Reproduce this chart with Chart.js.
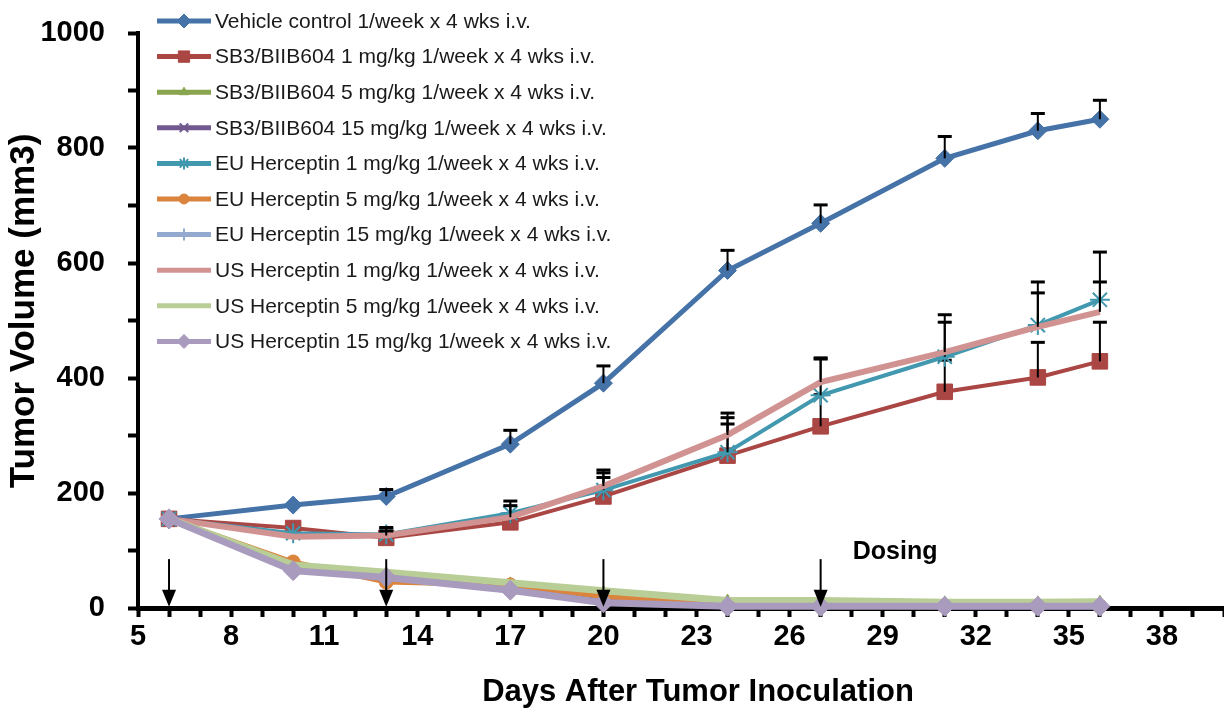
<!DOCTYPE html>
<html>
<head>
<meta charset="utf-8">
<script src="https://cdn.jsdelivr.net/npm/chart.js@4/dist/chart.umd.min.js"></script>
<style>
  html, body { margin: 0; padding: 0; background: #fff; }
  #wrap { width: 1224px; height: 710px; position: relative; }
</style>
</head>
<body>
<div id="wrap"><canvas id="c" width="1224" height="710"></canvas></div>
<script>
// ---------- data ----------
const days = [6, 10, 13, 17, 20, 24, 27, 31, 34, 36];

const seriesNames = [
  'Vehicle control 1/week x 4 wks i.v.',
  'SB3/BIIB604 1 mg/kg 1/week x 4 wks i.v.',
  'SB3/BIIB604 5 mg/kg 1/week x 4 wks i.v.',
  'SB3/BIIB604 15 mg/kg 1/week x 4 wks i.v.',
  'EU Herceptin 1 mg/kg 1/week x 4 wks i.v.',
  'EU Herceptin 5 mg/kg 1/week x 4 wks i.v.',
  'EU Herceptin 15 mg/kg 1/week x 4 wks i.v.',
  'US Herceptin 1 mg/kg 1/week x 4 wks i.v.',
  'US Herceptin 5 mg/kg 1/week x 4 wks i.v.',
  'US Herceptin 15 mg/kg 1/week x 4 wks i.v.'
];

const vehicle   = [155, 179, 194, 285, 391, 587, 669, 782, 830, 850];
const sb3_1     = [155, 139, 122, 149, 194, 265, 316, 376, 401, 429];
const sb3_5     = [155, 73, 60, 42, 27, 12, 12, 9, 9, 10];
const sb3_15    = [155, 67, 55, 33, 12, 3, 3, 3, 3, 3];
const eu_1      = [155, 130, 128, 165, 205, 271, 370, 437, 492, 536];
const eu_5      = [155, 80, 45, 40, 20, 5, 4, 3, 3, 3];
const eu_15     = [155, 66, 52, 32, 10, 3, 3, 2, 2, 2];
const us_1      = [155, 124, 126, 158, 212, 301, 393, 445, 489, 515];
const us_5      = [155, 75, 62, 44, 30, 13, 13, 10, 10, 11];
const us_15     = [155, 65, 53, 31, 9, 3, 3, 3, 3, 3];

// upper error bars (SEM)
const vehicleErr = [0, 0, 12, 24, 30, 35, 32, 38, 30, 33];
const sb3_1Err   = [0, 0, 10, 15, 46, 55, 55, 55, 61, 68];
const eu_1Err    = [0, 0, 12, 21, 30, 68, 65, 73, 75, 83];
const us_1Err    = [0, 0, 8, 20, 15, 30, 40, 52, 59, 52];
const zeroErr    = [0, 0, 0, 0, 0, 0, 0, 0, 0, 0];

const xTickStart = 5, xTickStep = 3, xMin = 5, xMax = 40;
const yTickLabels = [0, 200, 400, 600, 800, 1000];
const dosingDays = [6, 13, 20, 27];
const dosingLabel = 'Dosing';
const xTitle = 'Days After Tumor Inoculation';
const yTitle = 'Tumor Volume (mm3)';

// ---------- styles ----------
const FONT = "'Liberation Sans', Arial, sans-serif";
const styles = [
  { color: '#4572A7', point: 'rectRot',  r: 9,   bw: 5 },
  { color: '#AA4643', point: 'rect',     r: 11,  bw: 4 },
  { color: '#89A54E', point: 'triangle', r: 7,   bw: 5 },
  { color: '#71588F', point: 'crossRot', r: 7,   bw: 5 },
  { color: '#4198AF', point: 'star',     r: 10,  bw: 4 },
  { color: '#DB843D', point: 'circle',   r: 7,   bw: 5 },
  { color: '#93A9CF', point: 'cross',    r: 7,   bw: 5 },
  { color: '#D19392', point: false,      r: 0,   bw: 6 },
  { color: '#B9CD96', point: false,      r: 0,   bw: 7 },
  { color: '#A99BBD', point: 'rectRot',  r: 10,  bw: 7 }
];
const legendMarkerRadius = [7, 8, 5, 6, 6, 5, 6, 0, 0, 7];
const seriesValues = [vehicle, sb3_1, sb3_5, sb3_15, eu_1, eu_5, eu_15, us_1, us_5, us_15];
const seriesErrors = [vehicleErr, sb3_1Err, zeroErr, zeroErr, eu_1Err, zeroErr, zeroErr, us_1Err, zeroErr, zeroErr];

const isStroke = p => (p === 'star' || p === 'cross' || p === 'crossRot');

const datasets = seriesNames.map((name, i) => {
  const s = styles[i];
  return {
    label: name,
    data: days.map((d, j) => ({ x: d, y: seriesValues[i][j] })),
    errors: seriesErrors[i],
    borderColor: s.color,
    backgroundColor: s.color,
    borderWidth: s.bw,
    pointStyle: s.point || 'circle',
    pointRadius: s.r,
    pointHoverRadius: s.r,
    pointBorderWidth: isStroke(s.point) ? 2 : 1,
    pointBorderColor: s.color,
    pointBackgroundColor: s.color,
    tension: 0,
    clip: false,
    order: 20 - i
  };
});

// ---------- plugins ----------
const errorBarPlugin = {
  id: 'errorBars',
  afterDatasetDraw(chart, args) {
    const ds = chart.data.datasets[args.index];
    const errs = ds.errors;
    if (!errs) return;
    const ctx = chart.ctx, y = chart.scales.y;
    ctx.save();
    ctx.strokeStyle = '#000';
    args.meta.data.forEach((pt, j) => {
      const e = errs[j];
      if (!e) return;
      const v = ds.data[j].y;
      const yTop = y.getPixelForValue(v + e);
      ctx.lineWidth = 2;
      ctx.beginPath();
      ctx.moveTo(pt.x, pt.y);
      ctx.lineTo(pt.x, yTop);
      ctx.stroke();
      ctx.lineWidth = 3;
      ctx.beginPath();
      ctx.moveTo(pt.x - 7, yTop);
      ctx.lineTo(pt.x + 7, yTop);
      ctx.stroke();
    });
    ctx.restore();
  }
};

const dosingPlugin = {
  id: 'dosing',
  afterDatasetsDraw(chart) {
    const ctx = chart.ctx, xs = chart.scales.x, ys = chart.scales.y;
    ctx.save();
    ctx.strokeStyle = '#000';
    ctx.fillStyle = '#000';
    dosingDays.forEach(d => {
      const px = xs.getPixelForValue(d);
      const top = ys.getPixelForValue(85);
      const bot = ys.getPixelForValue(2);
      ctx.lineWidth = 2;
      ctx.beginPath();
      ctx.moveTo(px, top);
      ctx.lineTo(px, bot - 14);
      ctx.stroke();
      ctx.beginPath();
      ctx.moveTo(px - 7, bot - 17);
      ctx.lineTo(px + 7, bot - 17);
      ctx.lineTo(px, bot);
      ctx.closePath();
      ctx.fill();
    });
    ctx.font = 'bold 25px ' + FONT;
    ctx.textAlign = 'center';
    ctx.textBaseline = 'middle';
    ctx.fillText(dosingLabel, xs.getPixelForValue(29.4), ys.getPixelForValue(97));
    ctx.restore();
  }
};

const titlesPlugin = {
  id: 'axisTitles',
  afterDraw(chart) {
    const ctx = chart.ctx;
    ctx.save();
    ctx.fillStyle = '#000';
    ctx.textAlign = 'center';
    ctx.textBaseline = 'middle';
    ctx.font = 'bold 31px ' + FONT;
    ctx.fillText(xTitle, 698, 692);
    ctx.translate(24, 311);
    ctx.rotate(-Math.PI / 2);
    ctx.font = 'bold 35px ' + FONT;
    ctx.fillText(yTitle, 0, 0);
    ctx.restore();
  }
};

const legendPlugin = {
  id: 'customLegend',
  afterDraw(chart) {
    const ctx = chart.ctx;
    const x0 = 157, y0 = 21, dy = 35.6, len = 54;
    ctx.save();
    chart.data.datasets.forEach((ds, i) => {
      const s = styles[i];
      const yy = y0 + dy * i;
      ctx.strokeStyle = s.color;
      ctx.lineWidth = 5;
      ctx.lineCap = 'butt';
      ctx.beginPath();
      ctx.moveTo(x0, yy);
      ctx.lineTo(x0 + len, yy);
      ctx.stroke();
      if (s.point) {
        const opts = {
          pointStyle: s.point,
          radius: legendMarkerRadius[i],
          borderWidth: isStroke(s.point) ? 2 : 1,
          rotation: 0
        };
        ctx.fillStyle = s.color;
        ctx.strokeStyle = s.color;
        ctx.lineWidth = isStroke(s.point) ? 2 : 1;
        if (Chart.helpers && Chart.helpers.drawPoint) {
          Chart.helpers.drawPoint(ctx, opts, x0 + len / 2, yy);
        }
      }
      ctx.fillStyle = '#1a1a1a';
      ctx.font = '21px ' + FONT;
      ctx.textAlign = 'left';
      ctx.textBaseline = 'middle';
      ctx.fillText(ds.label, x0 + len + 4, yy + 1);
    });
    ctx.restore();
  }
};

// ---------- chart ----------
new Chart(document.getElementById('c'), {
  type: 'line',
  data: { datasets },
  plugins: [errorBarPlugin, dosingPlugin, titlesPlugin, legendPlugin],
  options: {
    responsive: false,
    animation: false,
    devicePixelRatio: 1,
    layout: { autoPadding: false, padding: { top: 33, right: 0, bottom: 0, left: 0 } },
    plugins: { legend: { display: false }, tooltip: { enabled: false } },
    scales: {
      x: {
        type: 'linear',
        min: xMin, max: xMax,
        afterFit(s) { s.height = 102; s.paddingRight = 0; s.paddingLeft = 0; },
        ticks: {
          stepSize: 1,
          autoSkip: false,
          maxRotation: 0,
          padding: 3,
          color: '#000',
          font: { family: FONT, size: 29, weight: 'bold' },
          callback: v => ((v - xTickStart) % xTickStep === 0 ? String(v) : '')
        },
        grid: { drawOnChartArea: false, drawTicks: true, tickLength: 9, tickWidth: 4, color: '#000' },
        border: { display: true, color: '#000', width: 5 },
        title: { display: false }
      },
      y: {
        type: 'linear',
        min: 0, max: 1000,
        afterFit(s) { s.width = 138; s.paddingTop = 0; s.paddingBottom = 0; },
        ticks: {
          stepSize: 100,
          autoSkip: false,
          padding: 23,
          color: '#000',
          font: { family: FONT, size: 29, weight: 'bold' },
          callback: v => (yTickLabels.includes(v) ? String(v) : '')
        },
        grid: { drawOnChartArea: false, drawTicks: true, tickLength: 10, tickWidth: 4, color: '#000' },
        border: { display: true, color: '#000', width: 4 },
        title: { display: false }
      }
    }
  }
});
</script>
</body>
</html>
